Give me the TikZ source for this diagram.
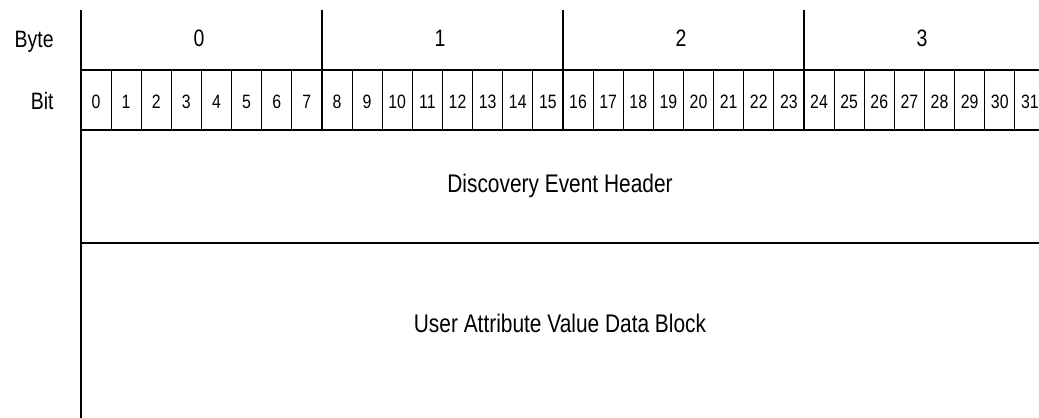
\documentclass[tikz,border=0pt]{standalone}
\usepackage{fontspec}
\setmainfont{Liberation Sans}[FakeStretch=0.82]
\usepackage{tikz}
\usetikzlibrary{positioning}

\tikzset{
  frameline/.style={line width=1.1pt},
  bitline/.style={line width=0.55pt},
  rowlabel/.style={font=\fontsize{13.5}{16}\selectfont, inner sep=0pt, anchor=base},
  fieldlabel/.style={font=\fontsize{14.5}{16}\selectfont, inner sep=0pt, anchor=base},
  bitlabel/.style={font=\fontsize{11}{12}\selectfont, inner sep=0pt, anchor=base}
}

\begin{document}
\begin{tikzpicture}[x=0.02cm, y=-0.02cm]
  \useasboundingbox (0,0) rectangle (1039,418);
  \clip (0,0) rectangle (1039,418);

  % Row names
  \node[rowlabel, anchor=base east] (bytename) at (54,48) {Byte};
  \node[rowlabel, anchor=base east] (bitname) at (54,110) {Bit};

  % Bit dividers (thin)
  \foreach \i in {1,...,31}
    \draw[bitline] ({81+30.125*\i},70) -- ({81+30.125*\i},130);

  % Main frame
  \draw[frameline] (81,10) -- (81,418);
  \draw[frameline] (81,70) -- (1039,70);
  \draw[frameline] (81,130) -- (1039,130);
  \draw[frameline] (81,243) -- (1039,243);

  % Bytes
  \foreach \b in {0,...,3} {
    \draw[frameline] ({81+241*(\b+1)},10) -- ({81+241*(\b+1)},130);
    \node[rowlabel] (byte\b) at ({81+241*\b+118},47) {\b};
  }

  % Bit numbers
  \foreach \i in {0,...,31}
    \node[bitlabel] (bit\i) at ({81+30.125*\i+15},109) {\i};

  % Fields
  \node[fieldlabel] (header) at (560,193) {Discovery Event Header};
  \node[fieldlabel] (datablock) at (560,333) {User Attribute Value Data Block};
\end{tikzpicture}
\end{document}
